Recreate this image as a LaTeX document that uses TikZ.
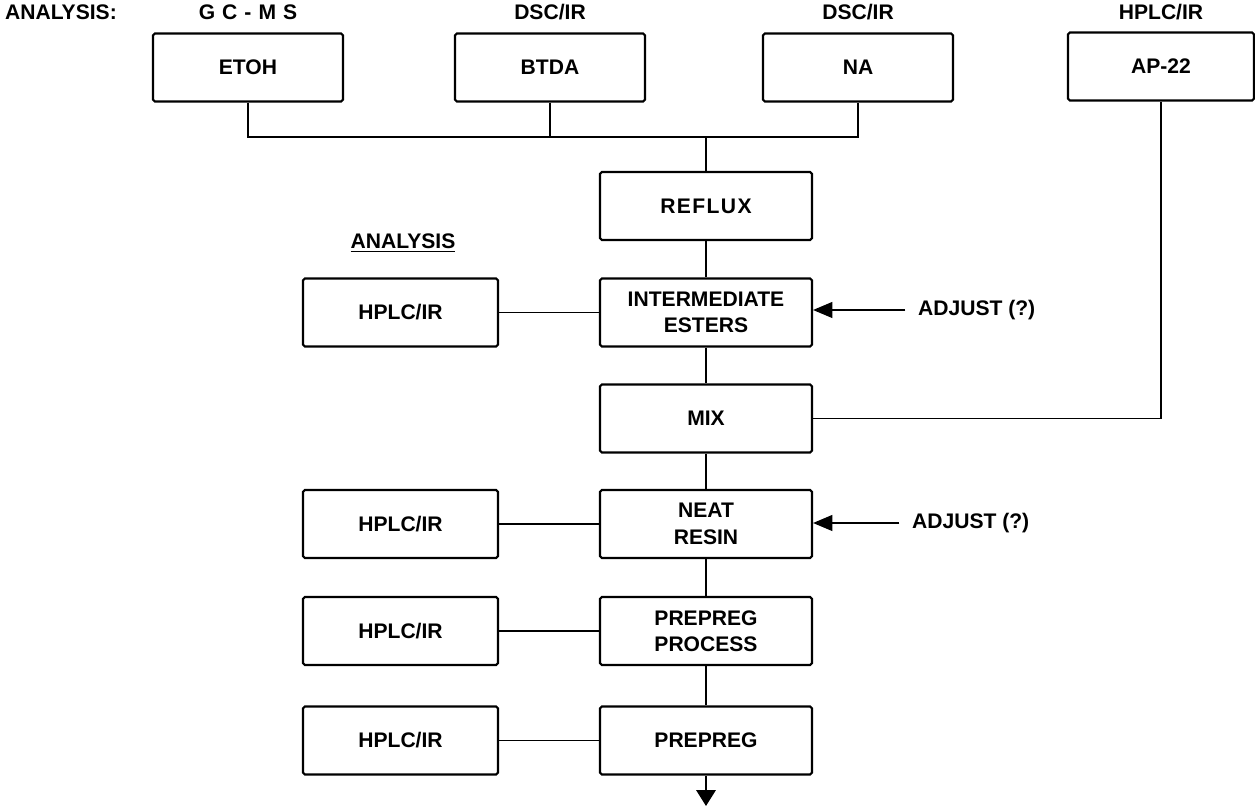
\documentclass[tikz,border=0pt]{standalone}
\usepackage{fontspec}
\setmainfont{Liberation Sans}
\usetikzlibrary{arrows.meta}
\begin{document}
\begin{tikzpicture}[x=0.02cm,y=-0.02cm,
  box/.style={draw,line width=1.2pt,rounded corners=1pt,minimum height=1.36cm,inner sep=2pt,align=center,font=\bfseries\fontsize{12}{15}\selectfont},
  topbox/.style={box,minimum width=3.8cm},
  midbox/.style={box,minimum width=4.24cm},
  lbox/.style={box,minimum width=3.9cm},
  lbl/.style={font=\bfseries\fontsize{12}{14}\selectfont,inner sep=1pt},
  conn/.style={line width=1pt},
  arr/.style={conn,shorten <=6pt,-{Triangle[length=11pt,width=9pt]}}]
\useasboundingbox (0,0) rectangle (1255,807);
% top row
\node[lbl,anchor=west] (ana) at (3,12) {ANALYSIS:};
\node[topbox] (etoh) at (248,67.5) {ETOH};
\node[topbox] (btda) at (550,67.5) {BTDA};
\node[topbox] (na) at (858,67.5) {NA};
\node[box,minimum width=3.72cm] (ap) at (1161,66.5) {AP-22};
\node[lbl] (lgc) at (248,12) {G\,\,C\,\,-\,\,M\,\,S};
\node[lbl] (ldsc1) at (550,12) {DSC/IR};
\node[lbl] (ldsc2) at (858,12) {DSC/IR};
\node[lbl] (lhplc) at (1161,12) {HPLC/IR};
% main column
\node[midbox] (reflux) at (706,206) {R\kern.8pt E\kern.8pt F\kern.8pt L\kern.8pt U\kern.8pt X};
\node[midbox] (esters) at (706,312.5) {INTERMEDIATE\\ESTERS};
\node[midbox] (mix) at (706,418.5) {MIX};
\node[midbox] (neat) at (706,524) {NEAT\\RESIN};
\node[midbox] (process) at (706,631) {PREPREG\\PROCESS};
\node[midbox] (prepreg) at (706,740.5) {PREPREG};
% left analysis column
\node[lbl] (ana2) at (403,243) {\underline{ANALYSIS}};
\node[lbox] (h1) at (400.5,312.5) {HPLC/IR};
\node[lbox] (h2) at (400.5,524) {HPLC/IR};
\node[lbox] (h3) at (400.5,631) {HPLC/IR};
\node[lbox] (h4) at (400.5,740.5) {HPLC/IR};
% adjust labels
\node[lbl,anchor=west] (adj1) at (916,310) {ADJUST (?)};
\node[lbl,anchor=west] (adj2) at (910,523) {ADJUST (?)};
% connectors
\coordinate (bus) at (706,137);
\draw[conn] (etoh.south) -- (etoh.south |- bus) -- (na.south |- bus) -- (na.south);
\draw[conn] (btda.south) -- (btda.south |- bus);
\draw[conn] (bus) -- (reflux.north);
\draw[conn] (reflux) -- (esters);
\draw[conn] (esters) -- (mix);
\draw[conn] (mix) -- (neat);
\draw[conn] (neat) -- (process);
\draw[conn] (process) -- (prepreg);
\draw[conn] (ap.south) |- (mix.east);
\draw[conn] (h1) -- (esters);
\draw[conn] (h2) -- (neat);
\draw[conn] (h3) -- (process);
\draw[conn] (h4) -- (prepreg);
\draw[arr] (adj1.west) -- (esters.east |- adj1.west);
\draw[arr] (adj2.west) -- (neat.east |- adj2.west);
\coordinate (out) at (706,806);
\draw[conn,-{Triangle[length=9pt,width=11pt]}] (prepreg.south) -- (out);
\end{tikzpicture}
\end{document}
